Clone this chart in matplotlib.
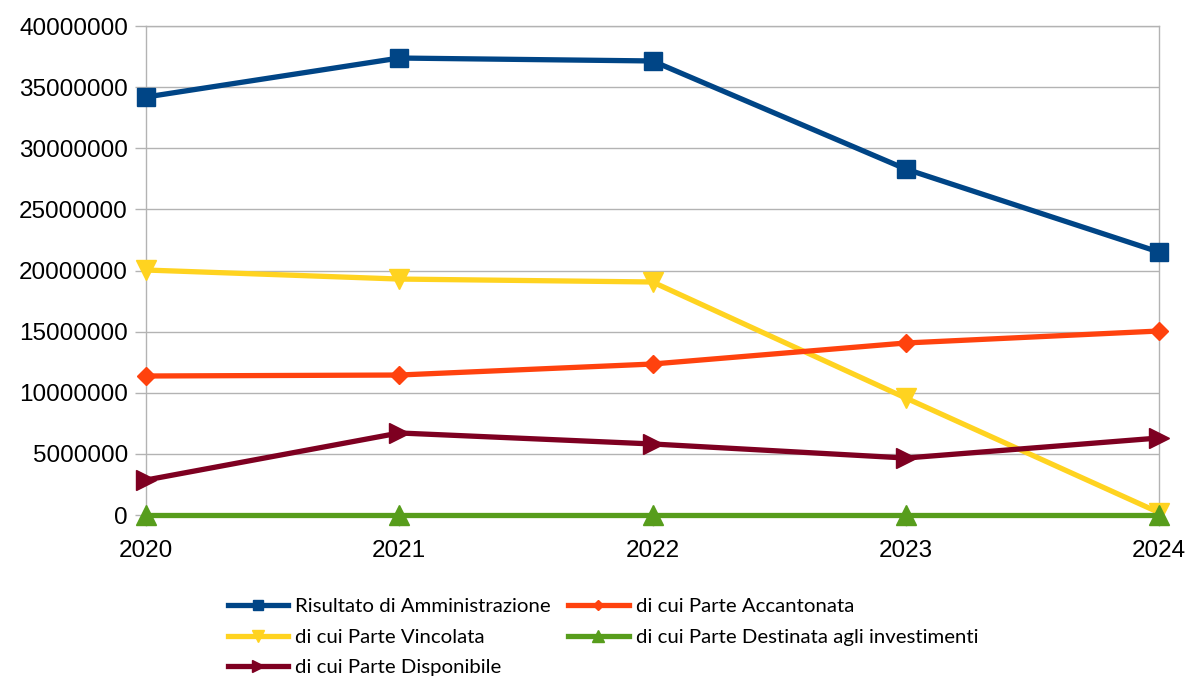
import matplotlib.pyplot as plt

# Data
anni = ['2020', '2021', '2022', '2023', '2024']
risultato = [34190000, 37380000, 37140000, 28300000, 21510000]
accantonata = [11370000, 11450000, 12350000, 14070000, 15050000]
vincolata = [20040000, 19300000, 19060000, 9570000, 200000]
destinata = [0, 0, 0, 0, 0]
disponibile = [2860000, 6710000, 5810000, 4660000, 6300000]

fig = plt.figure(figsize=(11.87, 6.77), dpi=100)
ax = fig.add_axes([146 / 1187, 1 - 515 / 677, (1159 - 146) / 1187, (515 - 26) / 677])

x = range(len(anni))
lw = 3.8
kw = dict(lw=lw, clip_on=False)
l1, = ax.plot(x, risultato, color='#004586', marker='s', ms=13, label='Risultato di Amministrazione', zorder=7, **kw)
l2, = ax.plot(x, accantonata, color='#ff420e', marker='D', ms=9, label='di cui Parte Accantonata', zorder=6, **kw)
l3, = ax.plot(x, vincolata, color='#ffd320', marker='v', ms=15, label='di cui Parte Vincolata', zorder=5, **kw)
l4, = ax.plot(x, destinata, color='#579d1c', marker='^', ms=15, label='di cui Parte Destinata agli investimenti', zorder=6, **kw)
l5, = ax.plot(x, disponibile, color='#7e0021', marker='>', ms=15, label='di cui Parte Disponibile', zorder=6, **kw)

ax.set_xlim(0, len(anni) - 1)
ax.set_ylim(0, 40000000)
ax.set_xticks(list(x))
ax.set_xticklabels(anni)
ax.set_yticks(range(0, 40000001, 5000000))
ax.set_yticklabels([str(v) for v in range(0, 40000001, 5000000)])

ax.grid(axis='y', color='#b3b3b3', lw=1)
ax.set_axisbelow(True)
for s in ax.spines.values():
    s.set_color('#b3b3b3')
    s.set_linewidth(1)
ax.tick_params(axis='both', color='#b3b3b3', length=8, width=1, labelsize=17.5)
ax.tick_params(axis='y', pad=5)
ax.tick_params(axis='x', pad=10)
for t in ax.get_xticklabels() + ax.get_yticklabels():
    t.set_fontfamily('Liberation Sans')

# column-major fill, so order to get row-wise layout like the original
handles = [l1, l3, l5, l2, l4]
leg = fig.legend(handles, [h.get_label() for h in handles], loc='upper left',
                 bbox_to_anchor=(228 / 1187, 1 - 598 / 677), ncol=2, borderpad=0, borderaxespad=0,
                 frameon=False, handlelength=2.95, columnspacing=0.85, labelspacing=0.64,
                 prop={'family': 'Lato', 'size': 14.7}, handletextpad=0.35, markerscale=0.6)

fig.savefig('out.png', dpi=100)
